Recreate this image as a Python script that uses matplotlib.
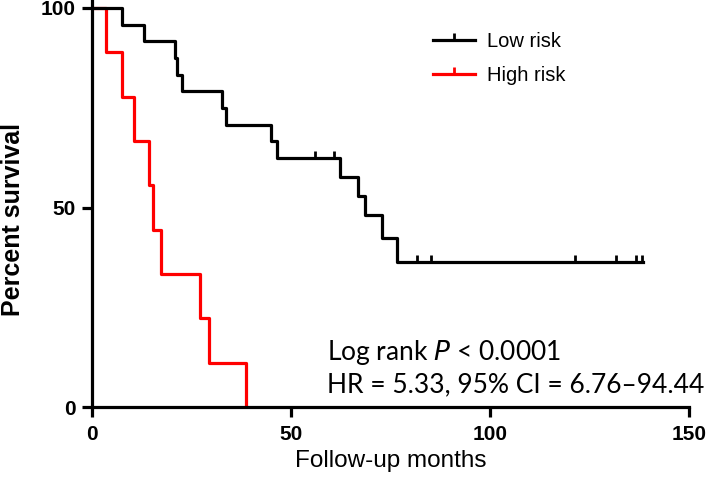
import matplotlib.pyplot as plt
from matplotlib.path import Path
from matplotlib.lines import Line2D

# Kaplan-Meier steps
low_t = [0, 7.5, 12.9, 20.9, 21.4, 22.5, 32.6, 33.6, 45.0, 46.4, 62.3, 66.7, 68.6, 72.9, 76.5, 138.4]
low_s = [100, 95.8, 91.7, 87.5, 83.3, 79.2, 75.0, 70.8, 66.7, 62.5, 57.7, 52.9, 48.1, 42.3, 36.3, 36.3]
low_cens_t = [55.9, 60.8, 81.6, 85.2, 121.4, 131.7, 136.7, 138.1]
low_cens_s = [62.5, 62.5, 36.3, 36.3, 36.3, 36.3, 36.3, 36.3]

high_t = [0, 3.5, 7.5, 10.6, 14.2, 15.4, 17.3, 27.0, 29.4, 38.6]
high_s = [100, 88.9, 77.8, 66.7, 55.6, 44.4, 33.3, 22.2, 11.1, 0]

xticks = [0, 50, 100, 150]
yticks = [0, 50, 100]

# upward tick for censored marks
up = Path([(0, 0), (0, 1)], [Path.MOVETO, Path.LINETO])

plt.rcParams['font.family'] = ['Liberation Sans', 'DejaVu Sans']
fig = plt.figure(figsize=(7.09, 4.8), dpi=100)
ax = fig.add_axes([0.130, 0.152, 0.842, 0.848])

ax.step(high_t, high_s, where='post', color='#ff0000', lw=2.3, zorder=2)
ax.step(low_t, low_s, where='post', color='black', lw=2.3, zorder=3)
ax.plot(low_cens_t, low_cens_s, ls='none', marker=up, ms=10, mew=2.0, color='black', zorder=3)

ax.set_xlim(0, 150)
ax.set_ylim(0, 102)
ax.spines['top'].set_visible(False)
ax.spines['right'].set_visible(False)
ax.spines['left'].set_linewidth(2.3)
ax.spines['bottom'].set_linewidth(2.3)
ax.set_xticks(xticks)
ax.set_yticks(yticks)
ax.tick_params(width=2.3, length=7, labelsize=15)
ax.tick_params(axis='y', pad=5)
ax.tick_params(axis='x', pad=6)
for lab in ax.get_xticklabels() + ax.get_yticklabels():
    lab.set_fontweight('bold')

ax.set_xlabel('Follow-up months', fontsize=17.5, labelpad=4)
ax.set_ylabel('Percent survival', fontsize=18, fontweight='bold')
ax.yaxis.set_label_coords(-0.112, 0.46)

handles = [Line2D([], [], color='black', lw=2.3, marker=up, ms=10, mew=2.0),
           Line2D([], [], color='#ff0000', lw=2.3, marker=up, ms=10, mew=2.0)]
ax.legend(handles, ['Low risk', 'High risk'], loc='upper left', bbox_to_anchor=(0.54, 0.965),
          frameon=False, fontsize=14.5, handlelength=2.1, handletextpad=0.6,
          labelspacing=0.75, numpoints=1)

ax.text(0.394, 0.115, 'Log rank $\\it{P}$ < 0.0001', transform=ax.transAxes,
        fontsize=19, family=['Lato', 'DejaVu Sans'], va='baseline')
ax.text(0.394, 0.035, 'HR = 5.33, 95% CI = 6.76\u201394.44', transform=ax.transAxes,
        fontsize=19, family=['Lato', 'DejaVu Sans'], va='baseline')

fig.savefig('out.png', dpi=100)
